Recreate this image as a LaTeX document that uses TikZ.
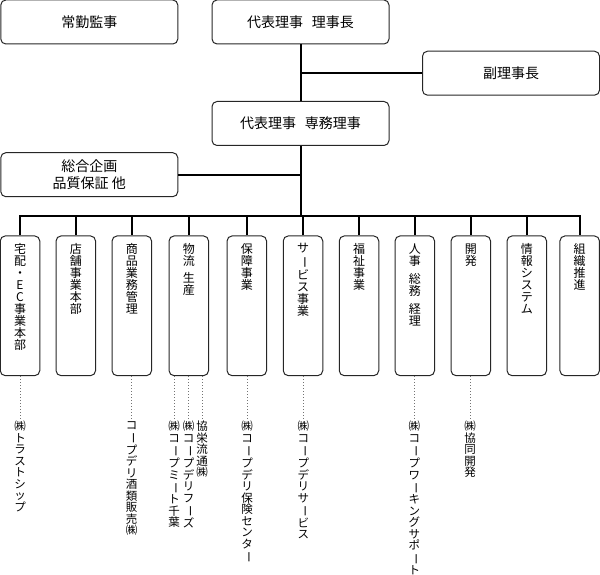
\documentclass[tikz,border=0pt]{standalone}
\usepackage{fontspec}
\usepackage{graphicx}
\usepackage{tikz}
\usetikzlibrary{positioning}
\newfontfamily\jpfont{Noto Sans CJK JP}
\newcommand{\choon}{\rotatebox[origin=c]{-90}{ー}}

\begin{document}
\begin{tikzpicture}[x=1pt, y=-1pt,
    box/.style={rectangle, draw=black!85, line width=1pt, rounded corners=5pt, minimum width=177pt, minimum height=44pt, align=center, font=\jpfont\fontsize{14}{17.5}\selectfont},
    dept/.style={rectangle, draw=black!85, line width=1pt, rounded corners=5pt, minimum width=39.5pt, minimum height=139.7pt},
    vtext/.style={align=center, inner sep=0pt, font=\jpfont\fontsize{12}{12}\selectfont},
    sub/.style={align=center, inner sep=0pt, anchor=north, font=\jpfont\fontsize{11.5}{11.5}\selectfont},
    conn/.style={line width=2pt},
    subline/.style={dotted, line width=1pt, draw=black!55}
]
\useasboundingbox (0,0) rectangle (600,575);

% Top boxes
\node[box] (kansa) at (89.3,22) {常勤監事};
\node[box] (rijicho) at (300.5,22) {代表理事\hspace{9pt}理事長};
\node[box] (fukuri) at (511,73.2) {副理事長};
\node[box] (senmu) at (300.5,123.5) {代表理事\hspace{9pt}専務理事};
\node[box] (sogo) at (89.3,174.7) {総合企画\\品質保証 他};
\coordinate (bus) at (300.5,215.7);

% Departments
\node[dept] (d1) at (20,305.8) {};
\node[dept] (d2) at (75.8,305.8) {};
\node[dept] (d3) at (131.8,305.8) {};
\node[dept] (d4) at (188.8,305.8) {};
\node[dept] (d5) at (246.8,305.8) {};
\node[dept] (d6) at (303,305.8) {};
\node[dept] (d7) at (359,305.8) {};
\node[dept] (d8) at (414.8,305.8) {};
\node[dept] (d9) at (470.8,305.8) {};
\node[dept] (d10) at (526.8,305.8) {};
\node[dept] (d11) at (579.7,305.8) {};

% Department names, written top to bottom
\node[vtext, below=8pt] (t1) at (d1.north) {宅\\配\\・\\E\\C\\事\\業\\本\\部};
\node[vtext, below=8pt] (t2) at (d2.north) {店\\舗\\事\\業\\本\\部};
\node[vtext, below=8pt] (t3) at (d3.north) {商\\品\\業\\務\\管\\理};
\node[vtext, below=8pt] (t4) at (d4.north) {物\\流\\[5pt]生\\産};
\node[vtext, below=8pt] (t5) at (d5.north) {保\\障\\事\\業};
\node[vtext, below=8pt] (t6) at (d6.north) {サ\\\choon\\ビ\\ス\\事\\業};
\node[vtext, below=8pt] (t7) at (d7.north) {福\\祉\\事\\業};
\node[vtext, below=8pt] (t8) at (d8.north) {人\\事\\[6pt]総\\務\\[6pt]経\\理};
\node[vtext, below=8pt] (t9) at (d9.north) {開\\発};
\node[vtext, below=8pt] (t10) at (d10.north) {情\\報\\シ\\ス\\テ\\ム};
\node[vtext, below=8pt] (t11) at (d11.north) {組\\織\\推\\進};

% Connectors
\draw[conn] (rijicho.south) -- (senmu.north);
\draw[conn] (fukuri.west) -- (fukuri.west -| rijicho.south);
\draw[conn] (senmu.south) -- (bus);
\draw[conn] (sogo.east) -- (sogo.east -| senmu.south);
\draw[conn] (d1.north) -- (d1.north |- bus) -- (d11.north |- bus) -- (d11.north);
\foreach \i in {2,...,10}
    \draw[conn] (d\i.north |- bus) -- (d\i.north);

% Subsidiaries
\node[sub] (s1) at (20,421) {㈱\\ト\\ラ\\ス\\ト\\シ\\ッ\\プ};
\node[sub] (s3) at (131.7,421) {コ\\\choon\\プ\\デ\\リ\\酒\\類\\販\\売\\㈱};
\node[sub] (s4a) at (174,421) {㈱\\コ\\\choon\\プ\\ミ\\\choon\\ト\\千\\葉};
\node[sub] (s4b) at (188.7,421) {㈱\\コ\\\choon\\プ\\デ\\リ\\フ\\\choon\\ズ};
\node[sub] (s4c) at (202,421) {協\\栄\\流\\通\\㈱};
\node[sub] (s5) at (247,421) {㈱\\コ\\\choon\\プ\\デ\\リ\\保\\険\\セ\\ン\\タ\\\choon};
\node[sub] (s6) at (303.3,421) {㈱\\コ\\\choon\\プ\\デ\\リ\\サ\\\choon\\ビ\\ス};
\node[sub] (s8) at (414.3,421) {㈱\\コ\\\choon\\プ\\ワ\\\choon\\キ\\ン\\グ\\サ\\ポ\\\choon\\ト};
\node[sub] (s9) at (470,421) {㈱\\協\\同\\開\\発};

% Dotted links
\draw[subline] (s1.north |- d1.south) -- (s1.north);
\draw[subline] (s3.north |- d3.south) -- (s3.north);
\draw[subline] (s4a.north |- d4.south) -- (s4a.north);
\draw[subline] (s4b.north |- d4.south) -- (s4b.north);
\draw[subline] (s4c.north |- d4.south) -- (s4c.north);
\draw[subline] (s5.north |- d5.south) -- (s5.north);
\draw[subline] (s6.north |- d6.south) -- (s6.north);
\draw[subline] (s8.north |- d8.south) -- (s8.north);
\draw[subline] (s9.north |- d9.south) -- (s9.north);
\end{tikzpicture}
\end{document}
